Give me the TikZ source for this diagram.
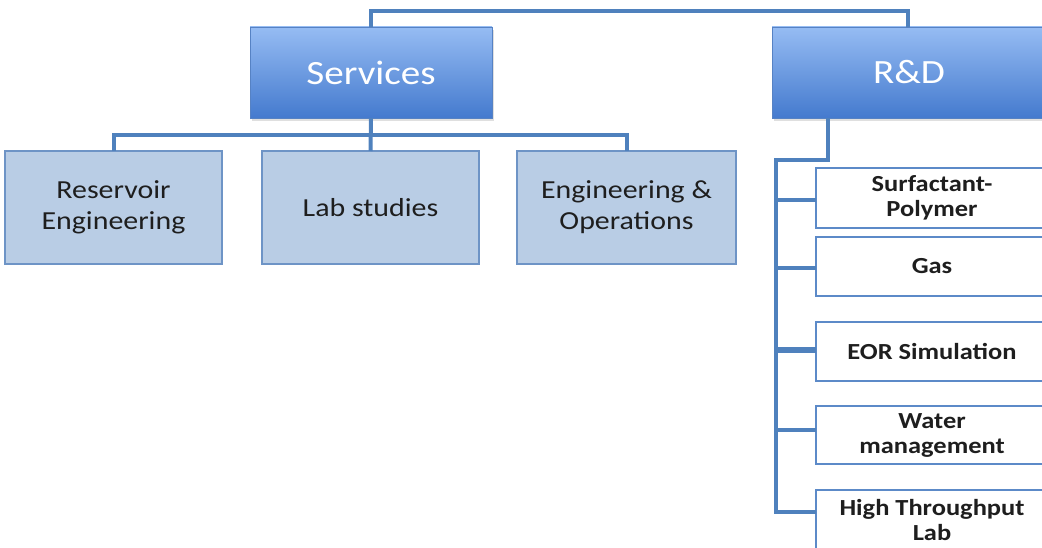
\documentclass[tikz,border=0pt]{standalone}
\usepackage{fontspec}
\setmainfont{Carlito}[FakeStretch=1.15]
\usetikzlibrary{calc,shadows}
\definecolor{conncol}{RGB}{79,129,189}
\definecolor{topA}{RGB}{150,188,243}
\definecolor{topB}{RGB}{68,122,206}
\definecolor{topline}{RGB}{86,130,196}
\definecolor{midfill}{RGB}{185,205,229}
\definecolor{midline}{RGB}{110,148,198}
\definecolor{subline}{RGB}{92,138,200}
\definecolor{txt}{RGB}{30,30,30}
\tikzset{
  topbox/.style={rectangle, draw=topline, line width=0.8pt, top color=topA, bottom color=topB,
    text=white, inner sep=0pt, outer sep=0pt, minimum height=91pt,
    font=\fontsize{34}{40}\selectfont,
    drop shadow={shadow xshift=2pt, shadow yshift=-3pt, opacity=0.25}},
  midbox/.style={rectangle, draw=midline, line width=1.2pt, fill=midfill, text=txt,
    inner sep=0pt, outer sep=0pt, minimum width=217pt, minimum height=113pt, align=center,
    font=\fontsize{26}{31}\selectfont},
  subbox/.style={rectangle, draw=subline, line width=1.2pt, fill=white, text=txt,
    inner sep=0pt, outer sep=0pt, minimum width=232pt, minimum height=59pt, align=center,
    font=\fontsize{23}{25}\selectfont\bfseries},
  conn/.style={draw=conncol, line width=4pt, line join=miter}
}
\begin{document}
\begin{tikzpicture}[x=1pt,y=-1pt]
\useasboundingbox (0,0) rectangle (1042,548);
% top level
\node[topbox, minimum width=242pt] (serv) at (371,72.5) {Services};
\node[topbox, minimum width=274pt] (rd) at (909,72.5) {R\&D};
% services children
\node[midbox] (res) at (113.5,207.5) {Reservoir\\Engineering};
\node[midbox] (lab) at (370.5,207.5) {Lab studies};
\node[midbox, minimum width=219pt] (eng) at (626.5,207.5) {Engineering \&\\Operations};
% R&D children
\node[subbox, minimum height=60pt] (sp) at (932,198) {Surfactant-\\Polymer};
\node[subbox] (gas) at (932,266.5) {Gas};
\node[subbox] (eor) at (932,351.5) {EOR Simulation};
\node[subbox, minimum height=58pt] (wm) at (932,435) {Water\\management};
\node[subbox, minimum height=60pt] (htl) at (932,520) {High Throughput\\Lab};
% connectors top
\coordinate (topbar) at (908,11);
\draw[conn] (serv.north) |- (topbar) -- (topbar |- rd.north);
% services bus
\coordinate (sbus) at (371,135);
\draw[conn] (serv.south) -- (lab.north);
\draw[conn] (res.north) |- (sbus) -| (eng.north);
% R&D spine
\coordinate (rdtap) at ($(rd.south west)+(56,0)$);
\coordinate (spinetop) at (776,160);
\coordinate (htltap) at ($(htl.west)+(0,-8)$);
\coordinate (wmtap) at ($(wm.west)+(0,-5)$);
\coordinate (sptap) at ($(sp.west)+(0,2)$);
\coordinate (gastap) at ($(gas.west)+(0,1.5)$);
\coordinate (eortap) at ($(eor.west)+(0,-1.5)$);
\draw[conn] (rdtap) |- (spinetop) |- (htltap);
\draw[conn] (spinetop |- sptap) -- (sptap);
\draw[conn] (spinetop |- gastap) -- (gastap);
\draw[conn, line width=5.5pt] (spinetop |- eortap) -- (eortap);
\draw[conn] (spinetop |- wmtap) -- (wmtap);
\end{tikzpicture}
\end{document}
